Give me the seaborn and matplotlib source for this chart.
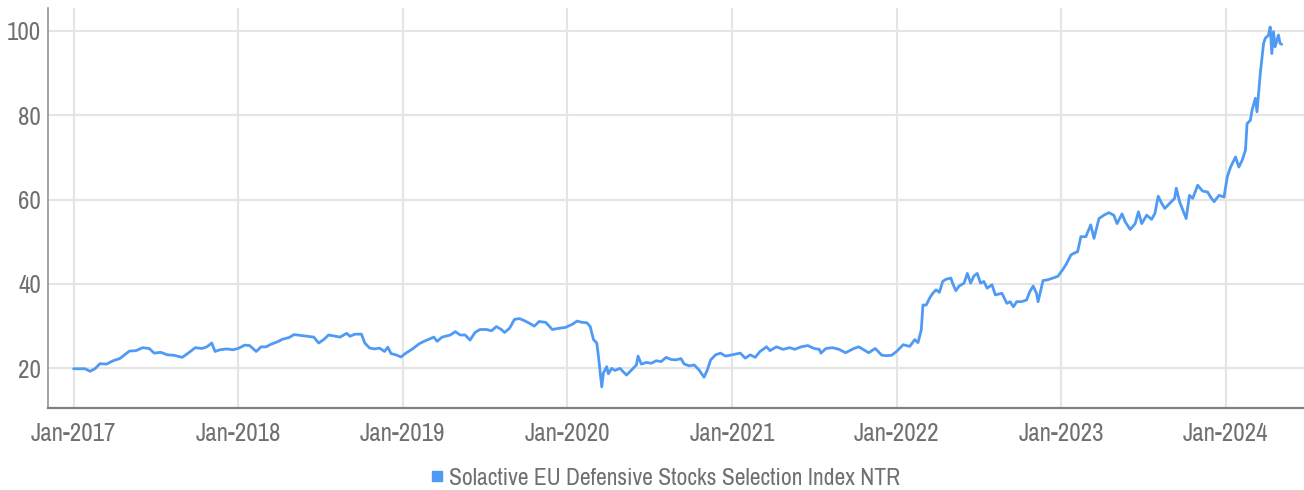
import numpy as np
import pandas as pd
import matplotlib
matplotlib.use("Agg")
import matplotlib.pyplot as plt
import matplotlib.dates as mdates
from matplotlib import font_manager as fm
from matplotlib.lines import Line2D
import seaborn as sns

# ---- data (decimal year, index level) ----
years = [
    2017.00, 2017.04, 2017.07, 2017.10, 2017.13, 2017.16, 2017.20, 2017.24, 2017.28, 2017.31,
    2017.34, 2017.38, 2017.42, 2017.46, 2017.49, 2017.53, 2017.57, 2017.61, 2017.66, 2017.70,
    2017.74, 2017.78, 2017.81, 2017.84, 2017.86, 2017.89, 2017.93, 2017.97, 2018.00, 2018.04,
    2018.07, 2018.11, 2018.14, 2018.17, 2018.20, 2018.24, 2018.27, 2018.31, 2018.34, 2018.38,
    2018.42, 2018.46, 2018.49, 2018.52, 2018.55, 2018.58, 2018.62, 2018.66, 2018.68, 2018.71,
    2018.75, 2018.77, 2018.80, 2018.83, 2018.86, 2018.89, 2018.91, 2018.93, 2018.96, 2018.99,
    2019.02, 2019.06, 2019.10, 2019.13, 2019.16, 2019.19, 2019.21, 2019.24, 2019.29, 2019.32,
    2019.35, 2019.38, 2019.41, 2019.44, 2019.47, 2019.51, 2019.54, 2019.57, 2019.60, 2019.62,
    2019.65, 2019.68, 2019.71, 2019.74, 2019.77, 2019.80, 2019.83, 2019.87, 2019.91, 2019.95,
    2019.99, 2020.03, 2020.06, 2020.09, 2020.12, 2020.14, 2020.16, 2020.18, 2020.19, 2020.21,
    2020.22, 2020.24, 2020.25, 2020.27, 2020.29, 2020.32, 2020.34, 2020.36, 2020.39, 2020.42,
    2020.43, 2020.45, 2020.48, 2020.51, 2020.54, 2020.57, 2020.60, 2020.63, 2020.66, 2020.69,
    2020.71, 2020.74, 2020.77, 2020.80, 2020.83, 2020.85, 2020.87, 2020.90, 2020.93, 2020.96,
    2021.00, 2021.05, 2021.08, 2021.11, 2021.14, 2021.17, 2021.21, 2021.23, 2021.27, 2021.31,
    2021.35, 2021.38, 2021.42, 2021.46, 2021.50, 2021.53, 2021.54, 2021.57, 2021.61, 2021.65,
    2021.69, 2021.74, 2021.77, 2021.80, 2021.83, 2021.87, 2021.91, 2021.94, 2021.97, 2022.00,
    2022.04, 2022.08, 2022.11, 2022.13, 2022.15, 2022.16, 2022.18, 2022.20, 2022.22, 2022.24,
    2022.26, 2022.28, 2022.30, 2022.33, 2022.34, 2022.36, 2022.38, 2022.41, 2022.43, 2022.45,
    2022.47, 2022.49, 2022.51, 2022.53, 2022.55, 2022.58, 2022.60, 2022.64, 2022.67, 2022.69,
    2022.71, 2022.73, 2022.76, 2022.79, 2022.81, 2022.83, 2022.85, 2022.86, 2022.89, 2022.92,
    2022.95, 2022.98, 2023.01, 2023.03, 2023.06, 2023.09, 2023.10, 2023.12, 2023.15, 2023.18,
    2023.20, 2023.23, 2023.26, 2023.29, 2023.32, 2023.34, 2023.37, 2023.39, 2023.42, 2023.45,
    2023.47, 2023.49, 2023.52, 2023.55, 2023.57, 2023.59, 2023.61, 2023.63, 2023.66, 2023.69,
    2023.70, 2023.72, 2023.74, 2023.76, 2023.78, 2023.80, 2023.83, 2023.86, 2023.89, 2023.91,
    2023.93, 2023.96, 2023.99, 2024.01, 2024.03, 2024.06, 2024.08, 2024.10, 2024.12, 2024.13,
    2024.15, 2024.16, 2024.18, 2024.19, 2024.21, 2024.23, 2024.24, 2024.26, 2024.27, 2024.28,
    2024.29, 2024.30, 2024.32, 2024.33, 2024.34,
]
values = [
    19.9, 19.9, 19.9, 19.3, 19.9, 21.1, 21.0, 21.8, 22.3, 23.2,
    24.1, 24.2, 24.9, 24.7, 23.6, 23.8, 23.2, 23.1, 22.6, 23.7,
    24.9, 24.7, 25.1, 26.0, 24.0, 24.4, 24.6, 24.4, 24.7, 25.5,
    25.4, 24.0, 25.1, 25.1, 25.7, 26.3, 26.9, 27.3, 28.0, 27.8,
    27.6, 27.4, 26.0, 26.8, 27.9, 27.7, 27.4, 28.3, 27.6, 28.1,
    28.1, 26.0, 24.8, 24.6, 24.8, 24.0, 25.0, 23.5, 23.2, 22.7,
    23.6, 24.6, 25.8, 26.4, 26.9, 27.4, 26.4, 27.4, 27.9, 28.7,
    27.9, 27.9, 26.7, 28.5, 29.2, 29.2, 28.9, 29.9, 29.2, 28.5,
    29.5, 31.6, 31.8, 31.3, 30.7, 30.0, 31.1, 30.9, 29.2, 29.5,
    29.7, 30.4, 31.2, 30.9, 30.8, 29.9, 26.8, 26.0, 22.8, 15.6,
    18.9, 20.4, 18.7, 20.0, 19.5, 20.0, 19.2, 18.4, 19.6, 20.8,
    22.9, 21.0, 21.4, 21.2, 21.8, 21.6, 22.6, 22.1, 22.0, 22.3,
    21.0, 20.6, 20.8, 19.6, 17.9, 19.6, 22.0, 23.2, 23.6, 22.9,
    23.2, 23.6, 22.4, 23.2, 22.6, 24.0, 25.1, 24.2, 25.1, 24.5,
    24.9, 24.5, 25.1, 25.4, 24.7, 24.5, 23.6, 24.7, 24.9, 24.5,
    23.7, 24.7, 25.1, 24.4, 23.7, 24.7, 23.1, 23.0, 23.1, 24.0,
    25.6, 25.2, 26.8, 26.1, 29.1, 35.0, 35.0, 36.6, 37.8, 38.6,
    38.0, 40.6, 41.1, 41.4, 40.2, 38.4, 39.5, 40.2, 42.5, 40.2,
    41.9, 42.5, 40.2, 40.6, 39.0, 39.8, 37.4, 37.8, 35.4, 35.8,
    34.6, 35.8, 35.8, 36.2, 38.2, 39.5, 37.8, 35.8, 40.8, 41.0,
    41.4, 41.8, 43.4, 44.6, 46.9, 47.5, 47.6, 51.2, 51.2, 54.0,
    50.8, 55.5, 56.3, 56.9, 56.3, 54.3, 56.6, 54.7, 52.9, 54.3,
    57.1, 54.3, 56.3, 55.3, 56.7, 60.8, 59.2, 57.9, 59.1, 60.3,
    62.7, 59.5, 57.5, 55.5, 61.0, 60.3, 63.4, 62.0, 61.8, 60.5,
    59.5, 61.0, 60.6, 65.4, 67.7, 70.1, 67.7, 69.3, 71.7, 78.0,
    78.8, 81.2, 84.0, 80.8, 89.9, 97.0, 98.2, 99.0, 100.9, 94.6,
    99.8, 96.2, 99.0, 97.0, 96.8,
]
series_name = "Solactive EU Defensive Stocks Selection Index NTR"
y_ticks = [20, 40, 60, 80, 100]
x_tick_years = [2017, 2018, 2019, 2020, 2021, 2022, 2023, 2024]


def to_date(y):
    yr = int(np.floor(y))
    start = pd.Timestamp(year=yr, month=1, day=1)
    end = pd.Timestamp(year=yr + 1, month=1, day=1)
    return start + (end - start) * (y - yr)


df = pd.DataFrame({"date": [to_date(y) for y in years], "value": values})

sns.set_theme(style="white")

# pick a narrow face if one is installed, else Roboto Light
narrow = [f for f in fm.fontManager.ttflist
          if ("Narrow" in f.name or "Condensed" in f.name)]
if narrow:
    font_kw = dict(family=narrow[0].name)
    FS_T, FS_L = 18.0, 17.0
else:
    font_kw = dict(family="Roboto", weight="light")
    FS_T, FS_L = 15.0, 14.5
tick_prop = fm.FontProperties(size=FS_T, **font_kw)
leg_prop = fm.FontProperties(size=FS_L, **font_kw)
plt.rcParams["font.family"] = [font_kw["family"], "DejaVu Sans"]

LINE = "#4f9af4"
TXT = "#707070"

fig = plt.figure(figsize=(13.04, 4.9), dpi=100)
ax = fig.add_axes([48 / 1304, 82 / 490, 1 - 48 / 1304, (408 - 8) / 490])

sns.lineplot(data=df, x="date", y="value", ax=ax, color=LINE, linewidth=2.0, legend=False)

ax.set_ylim(10.6, 105.4)
ax.set_xlim(to_date(2016.845), to_date(2024.475))
ax.set_yticks(y_ticks)
ax.set_xticks([pd.Timestamp(year=y, month=1, day=1) for y in x_tick_years])
ax.xaxis.set_major_formatter(mdates.DateFormatter("%b-%Y"))

ax.grid(True, which="major", color="#e5e5e5", linewidth=1.5)
ax.set_axisbelow(True)
ax.set_xlabel("")
ax.set_ylabel("")
for s in ["top", "right"]:
    ax.spines[s].set_visible(False)
ax.spines["left"].set_color("#8a8a8a")
ax.spines["left"].set_linewidth(1.1)
ax.spines["bottom"].set_color("#808080")
ax.spines["bottom"].set_linewidth(1.6)
ax.tick_params(axis="both", length=0, labelcolor=TXT)
ax.tick_params(axis="x", pad=10)
ax.tick_params(axis="y", pad=5)
for lab in ax.get_xticklabels() + ax.get_yticklabels():
    lab.set_fontproperties(tick_prop)

handle = Line2D([], [], marker="s", color=LINE, linestyle="none", markersize=7)
fig.legend([handle], [series_name], loc="center", bbox_to_anchor=(0.508, 1 - 478 / 490),
           frameon=False, prop=leg_prop, labelcolor=TXT, handletextpad=0.0,
           handlelength=1.0, borderaxespad=0)

fig.savefig("out.png", dpi=100)
